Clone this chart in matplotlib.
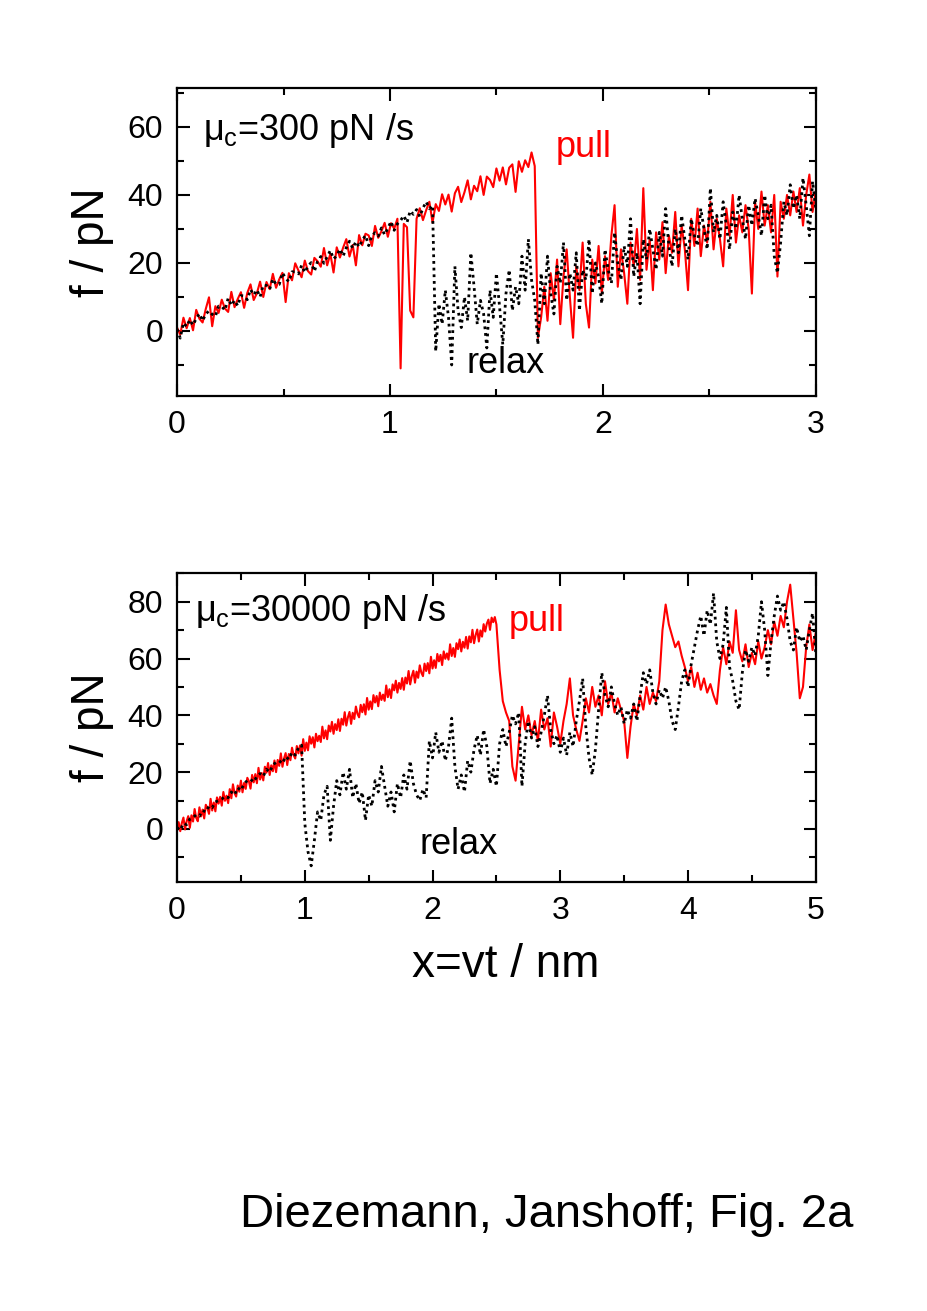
import numpy as np
import matplotlib.pyplot as plt
from matplotlib.ticker import MultipleLocator

plt.rcParams['font.family'] = 'Liberation Sans'
plt.rcParams['mathtext.fontset'] = 'custom'
plt.rcParams['mathtext.rm'] = 'Liberation Sans'
plt.rcParams['mathtext.it'] = 'Liberation Sans'

# force traces read off the figure (pN), evenly sampled along x
# top panel: x from 0 to 3 nm, mu_c = 300 pN/s
pull_slow = [
    1.0, -1.1, 3.9, 0.8, 3.8, 0.2, 6.2, 3.6, 2.5, 6.5,
    9.9, 1.4, 7.3, 5.3, 9.2, 6.6, 5.6, 11.5, 7.0, 9.4,
    11.4, 6.8, 11.2, 13.7, 9.1, 11.1, 14.5, 10.0, 14.4, 12.3,
    16.8, 12.7, 15.2, 17.1, 8.5, 17.0, 14.9, 19.9, 17.8, 15.8,
    20.7, 17.6, 16.6, 21.5, 20.5, 18.9, 24.4, 19.3, 22.7, 17.2,
    24.6, 21.6, 24.5, 27.0, 21.9, 25.3, 19.3, 28.2, 25.2, 28.6,
    28.1, 25.0, 30.9, 27.4, 29.3, 31.8, 27.7, 31.7, 30.1, 33.0,
    -11.0, 31.5, 30.5, 6.0, 4.0, 33.0, 36.1, 32.6, 35.5, 38.0,
    31.9, 37.3, 35.3, 40.2, 37.2, 40.1, 35.1, 40.5, 42.4, 37.9,
    40.8, 44.3, 38.7, 42.7, 41.1, 45.5, 40.0, 45.4, 44.4, 42.3,
    47.8, 44.2, 48.1, 43.1, 48.0, 49.0, 40.9, 49.9, 46.8, 50.2,
    48.2, 52.5, 48.5, -2.0, 4.0, 13.0, 3.0, 17.0, 9.0, 21.0,
    2.0, 16.0, 24.0, 10.0, -2.0, 19.0, 12.0, 26.0, 8.0, 1.0,
    21.0, 14.0, 25.0, 11.0, 22.0, 15.0, 28.0, 37.0, 13.0, 24.0,
    17.0, 8.0, 26.0, 19.0, 30.0, 15.0, 42.0, 18.0, 27.0, 12.0,
    29.0, 21.0, 32.0, 17.0, 28.0, 23.0, 35.0, 19.0, 31.0, 24.0,
    12.0, 33.0, 25.0, 36.0, 22.0, 31.0, 26.0, 38.0, 24.0, 33.0,
    27.0, 19.0, 36.0, 28.0, 40.0, 26.0, 34.0, 29.0, 37.0, 30.0,
    11.0, 38.0, 30.0, 41.0, 31.0, 37.0, 29.0, 40.0, 16.0, 38.0,
    33.0, 40.0, 34.0, 41.0, 35.0, 42.0, 31.0, 40.0, 46.0, 35.0,
    41.0,
]
relax_slow = [
    0.5, -2.1, 2.4, 1.3, 3.3, 1.7, 3.7, 5.1, 3.0, 5.0,
    5.9, 4.9, 4.3, 7.3, 7.2, 6.1, 9.6, 7.5, 9.0, 7.4,
    10.4, 10.3, 9.2, 12.2, 10.6, 12.1, 10.0, 13.5, 13.4, 12.3,
    15.3, 13.7, 13.7, 17.1, 15.5, 14.5, 17.4, 17.4, 16.8, 19.3,
    17.2, 19.1, 20.1, 17.5, 20.5, 21.9, 19.9, 21.8, 23.7, 21.2,
    22.1, 24.1, 22.0, 24.5, 26.4, 24.3, 26.3, 24.7, 26.7, 28.1,
    25.1, 28.0, 28.9, 27.9, 30.3, 28.3, 30.2, 32.2, 29.6, 31.5,
    32.5, 33.9, 31.9, 35.3, 34.3, 35.7, 33.6, 36.1, 38.0, 36.0,
    36.9, -6.0, 8.0, 2.0, 12.0, 4.0, -10.0, 19.0, 6.0, 1.0,
    10.0, 3.0, 23.0, 13.0, 2.0, 9.0, 5.0, -5.0, 12.0, 4.0,
    17.0, 7.0, -4.0, 11.0, 18.0, 6.0, 13.0, 8.0, 22.0, 12.0,
    27.0, 15.0, 9.0, -4.0, 17.0, 8.0, 22.0, 11.0, 5.0, 19.0,
    14.0, 26.0, 9.0, 17.0, 12.0, 23.0, 6.0, 18.0, 15.0, 27.0,
    11.0, 20.0, 16.0, 8.0, 24.0, 18.0, 14.0, 29.0, 20.0, 15.0,
    25.0, 19.0, 33.0, 16.0, 23.0, 8.0, 27.0, 21.0, 30.0, 24.0,
    18.0, 29.0, 22.0, 36.0, 25.0, 19.0, 30.0, 23.0, 34.0, 27.0,
    21.0, 33.0, 28.0, 25.0, 36.0, 30.0, 24.0, 42.0, 29.0, 34.0,
    27.0, 38.0, 31.0, 24.0, 35.0, 30.0, 40.0, 33.0, 27.0, 37.0,
    31.0, 39.0, 34.0, 28.0, 40.0, 33.0, 37.0, 22.0, 17.0, 26.0,
    38.0, 34.0, 43.0, 36.0, 40.0, 33.0, 45.0, 37.0, 28.0, 44.0,
    36.0,
]

# bottom panel, mu_c = 30000 pN/s
# pull: loading ramp 0..2.5 nm (finer sampling) and the part after rupture 2.5..5 nm
pull_fast_ramp = [
    -0.5, 2.4, -0.8, 2.1, 4.0, -0.2, 2.7, 4.5, 0.4, 4.8,
    2.6, 7.0, 3.9, 2.7, 7.6, 4.4, 6.8, 3.7, 8.5, 7.4,
    5.3, 10.6, 6.5, 9.3, 6.2, 11.1, 8.9, 11.3, 8.2, 13.0,
    9.9, 11.7, 9.1, 14.0, 10.8, 15.7, 12.6, 11.4, 15.3, 13.1,
    17.0, 12.9, 16.2, 14.1, 18.0, 16.8, 14.2, 19.0, 16.4, 19.3,
    16.1, 21.5, 17.4, 19.7, 17.1, 21.9, 19.8, 23.2, 19.0, 22.4,
    20.3, 24.1, 20.0, 24.3, 22.2, 26.6, 21.9, 24.8, 26.7, 22.5,
    26.4, 24.2, 28.6, 26.0, 24.8, 29.2, 26.6, 29.4, 25.8, 31.6,
    27.5, 30.4, 27.7, 32.6, 30.0, 32.3, 28.7, 33.5, 30.9, 32.8,
    30.6, 36.0, 31.9, 34.7, 31.6, 36.4, 34.3, 37.7, 33.5, 36.9,
    34.8, 38.6, 34.5, 38.8, 36.7, 41.1, 36.4, 39.3, 41.2, 37.0,
    40.9, 38.7, 43.1, 40.5, 39.3, 43.7, 41.1, 43.9, 40.3, 46.1,
    42.0, 44.9, 42.2, 47.1, 44.5, 46.8, 43.2, 48.0, 45.4, 47.3,
    45.1, 50.5, 46.4, 49.2, 46.1, 50.9, 48.8, 52.2, 48.0, 51.4,
    49.3, 53.1, 49.0, 53.3, 51.2, 55.6, 50.9, 53.8, 55.7, 51.5,
    55.4, 53.2, 57.6, 55.0, 53.8, 58.2, 55.6, 58.4, 54.8, 60.6,
    56.5, 59.4, 56.7, 61.6, 59.0, 61.3, 57.7, 62.5, 59.9, 61.8,
    59.6, 65.0, 60.9, 63.7, 60.6, 65.4, 63.3, 66.7, 62.5, 65.9,
    63.8, 67.6, 63.5, 67.8, 65.7, 70.1, 65.4, 68.3, 70.2, 66.0,
    69.9, 67.7, 72.1, 69.5, 72.3, 73.7, 70.1, 74.4, 72.8, 74.6,
    72.0,
]
pull_fast_tail = [
    72.0, 56.0, 45.0, 41.0, 38.0, 22.0, 17.0, 30.0, 43.0, 35.0,
    40.0, 33.0, 38.0, 31.0, 42.0, 35.0, 39.0, 29.0, 41.0, 36.0,
    30.0, 38.0, 44.0, 53.0, 40.0, 35.0, 31.0, 38.0, 46.0, 41.0,
    50.0, 43.0, 47.0, 40.0, 52.0, 44.0, 48.0, 41.0, 46.0, 42.0,
    38.0, 25.0, 36.0, 44.0, 40.0, 47.0, 42.0, 50.0, 44.0, 48.0,
    45.0, 52.0, 70.0, 79.0, 72.0, 68.0, 64.0, 66.0, 61.0, 57.0,
    52.0, 57.0, 50.0, 55.0, 49.0, 53.0, 48.0, 51.0, 47.0, 44.0,
    56.0, 64.0, 58.0, 66.0, 62.0, 77.0, 63.0, 59.0, 65.0, 57.0,
    62.0, 58.0, 66.0, 60.0, 64.0, 70.0, 65.0, 73.0, 68.0, 75.0,
    71.0, 80.0, 86.0, 74.0, 62.0, 46.0, 50.0, 64.0, 72.0, 63.0,
    69.0,
]
relax_fast = [
    0.5, -0.5, 2.0, 1.5, 3.5, 4.0, 5.0, 4.5, 6.5, 6.0,
    8.0, 7.5, 9.5, 10.0, 10.5, 11.5, 11.0, 13.0, 12.0, 14.5,
    13.5, 16.0, 17.0, 17.5, 16.5, 18.5, 19.5, 18.5, 21.0, 20.0,
    22.5, 23.5, 24.0, 23.0, 25.5, 24.5, 27.0, 26.0, 28.5, 29.5,
    2.0, -8.0, -13.0, -4.0, 6.0, 3.0, 12.0, 15.0, -4.0, 8.0,
    17.0, 12.0, 20.0, 14.0, 21.0, 11.0, 16.0, 9.0, 13.0, 3.0,
    12.0, 8.0, 17.0, 13.0, 22.0, 15.0, 8.0, 13.0, 6.0, 16.0,
    11.0, 19.0, 14.0, 24.0, 16.0, 12.0, 10.0, 14.0, 11.0, 31.0,
    25.0, 34.0, 27.0, 31.0, 24.0, 29.0, 39.0, 22.0, 14.0, 19.0,
    13.0, 24.0, 20.0, 28.0, 33.0, 26.0, 35.0, 29.0, 16.0, 21.0,
    15.0, 30.0, 35.0, 29.0, 34.0, 40.0, 37.0, 41.0, 15.0, 30.0,
    38.0, 32.0, 36.0, 29.0, 34.0, 40.0, 47.0, 35.0, 30.0, 33.0,
    27.0, 32.0, 26.0, 34.0, 29.0, 38.0, 45.0, 53.0, 36.0, 25.0,
    19.0, 28.0, 42.0, 55.0, 47.0, 43.0, 50.0, 44.0, 40.0, 43.0,
    37.0, 42.0, 39.0, 44.0, 38.0, 47.0, 55.0, 51.0, 56.0, 48.0,
    44.0, 49.0, 46.0, 50.0, 45.0, 38.0, 35.0, 43.0, 52.0, 56.0,
    50.0, 58.0, 64.0, 70.0, 75.0, 68.0, 77.0, 72.0, 83.0, 66.0,
    60.0, 65.0, 78.0, 57.0, 52.0, 45.0, 42.0, 55.0, 63.0, 59.0,
    64.0, 61.0, 68.0, 80.0, 70.0, 54.0, 66.0, 75.0, 82.0, 77.0,
    80.0, 74.0, 66.0, 63.0, 71.0, 66.0, 68.0, 63.0, 70.0, 76.0,
    62.0,
]

x_slow = np.linspace(0, 3, len(pull_slow))
x_pull_fast = np.concatenate([np.linspace(0, 2.5, len(pull_fast_ramp)),
                              np.linspace(2.5, 5, len(pull_fast_tail))])
pull_fast = pull_fast_ramp + pull_fast_tail
x_relax_fast = np.linspace(0, 5, len(relax_fast))

fig = plt.figure(figsize=(9.27, 13.11), dpi=100)
ax1 = fig.add_axes([0.191, 0.698, 0.689, 0.235])
ax2 = fig.add_axes([0.191, 0.3272, 0.689, 0.2357])


def style(ax, xmax, ylim):
    ax.set_xlim(0, xmax)
    ax.set_ylim(*ylim)
    ax.xaxis.set_major_locator(MultipleLocator(1))
    ax.xaxis.set_minor_locator(MultipleLocator(0.5))
    ax.yaxis.set_major_locator(MultipleLocator(20))
    ax.yaxis.set_minor_locator(MultipleLocator(10))
    ax.tick_params(which='both', direction='in', top=True, right=True,
                   labelsize=23, width=1.5, pad=10)
    ax.tick_params(which='major', length=9)
    ax.tick_params(which='minor', length=5)
    for s in ax.spines.values():
        s.set_linewidth(1.6)
    ax.set_ylabel('f / pN', fontsize=33, labelpad=10)


dots = (0, (1.0, 1.4))

ax1.plot(x_slow, pull_slow, color='red', lw=1.5)
ax1.plot(x_slow, relax_slow, color='black', lw=2.0, linestyle=dots)
style(ax1, 3, (-19.1, 71.5))
ax1.text(0.12, 59, r'$\mu_c$=300 pN /s', fontsize=26, va='center', ha='left')
ax1.text(1.78, 54, 'pull', color='red', fontsize=26, va='center', ha='left')
ax1.text(1.36, -9.5, 'relax', color='black', fontsize=26, va='center', ha='left')

ax2.plot(x_pull_fast, pull_fast, color='red', lw=1.5)
ax2.plot(x_relax_fast, relax_fast, color='black', lw=2.0, linestyle=dots)
style(ax2, 5, (-18.7, 90.1))
ax2.text(0.14, 76.5, r'$\mu_c$=30000 pN /s', fontsize=26, va='center', ha='left')
ax2.text(2.6, 73, 'pull', color='red', fontsize=26, va='center', ha='left')
ax2.text(1.9, -5.5, 'relax', color='black', fontsize=26, va='center', ha='left')
ax2.set_xlabel('x=vt / nm', fontsize=33, labelpad=12, x=0.515)

fig.text(0.259, 0.073, 'Diezemann, Janshoff; Fig. 2a', fontsize=34,
         va='center', ha='left')

fig.savefig('out.png', dpi=100)
